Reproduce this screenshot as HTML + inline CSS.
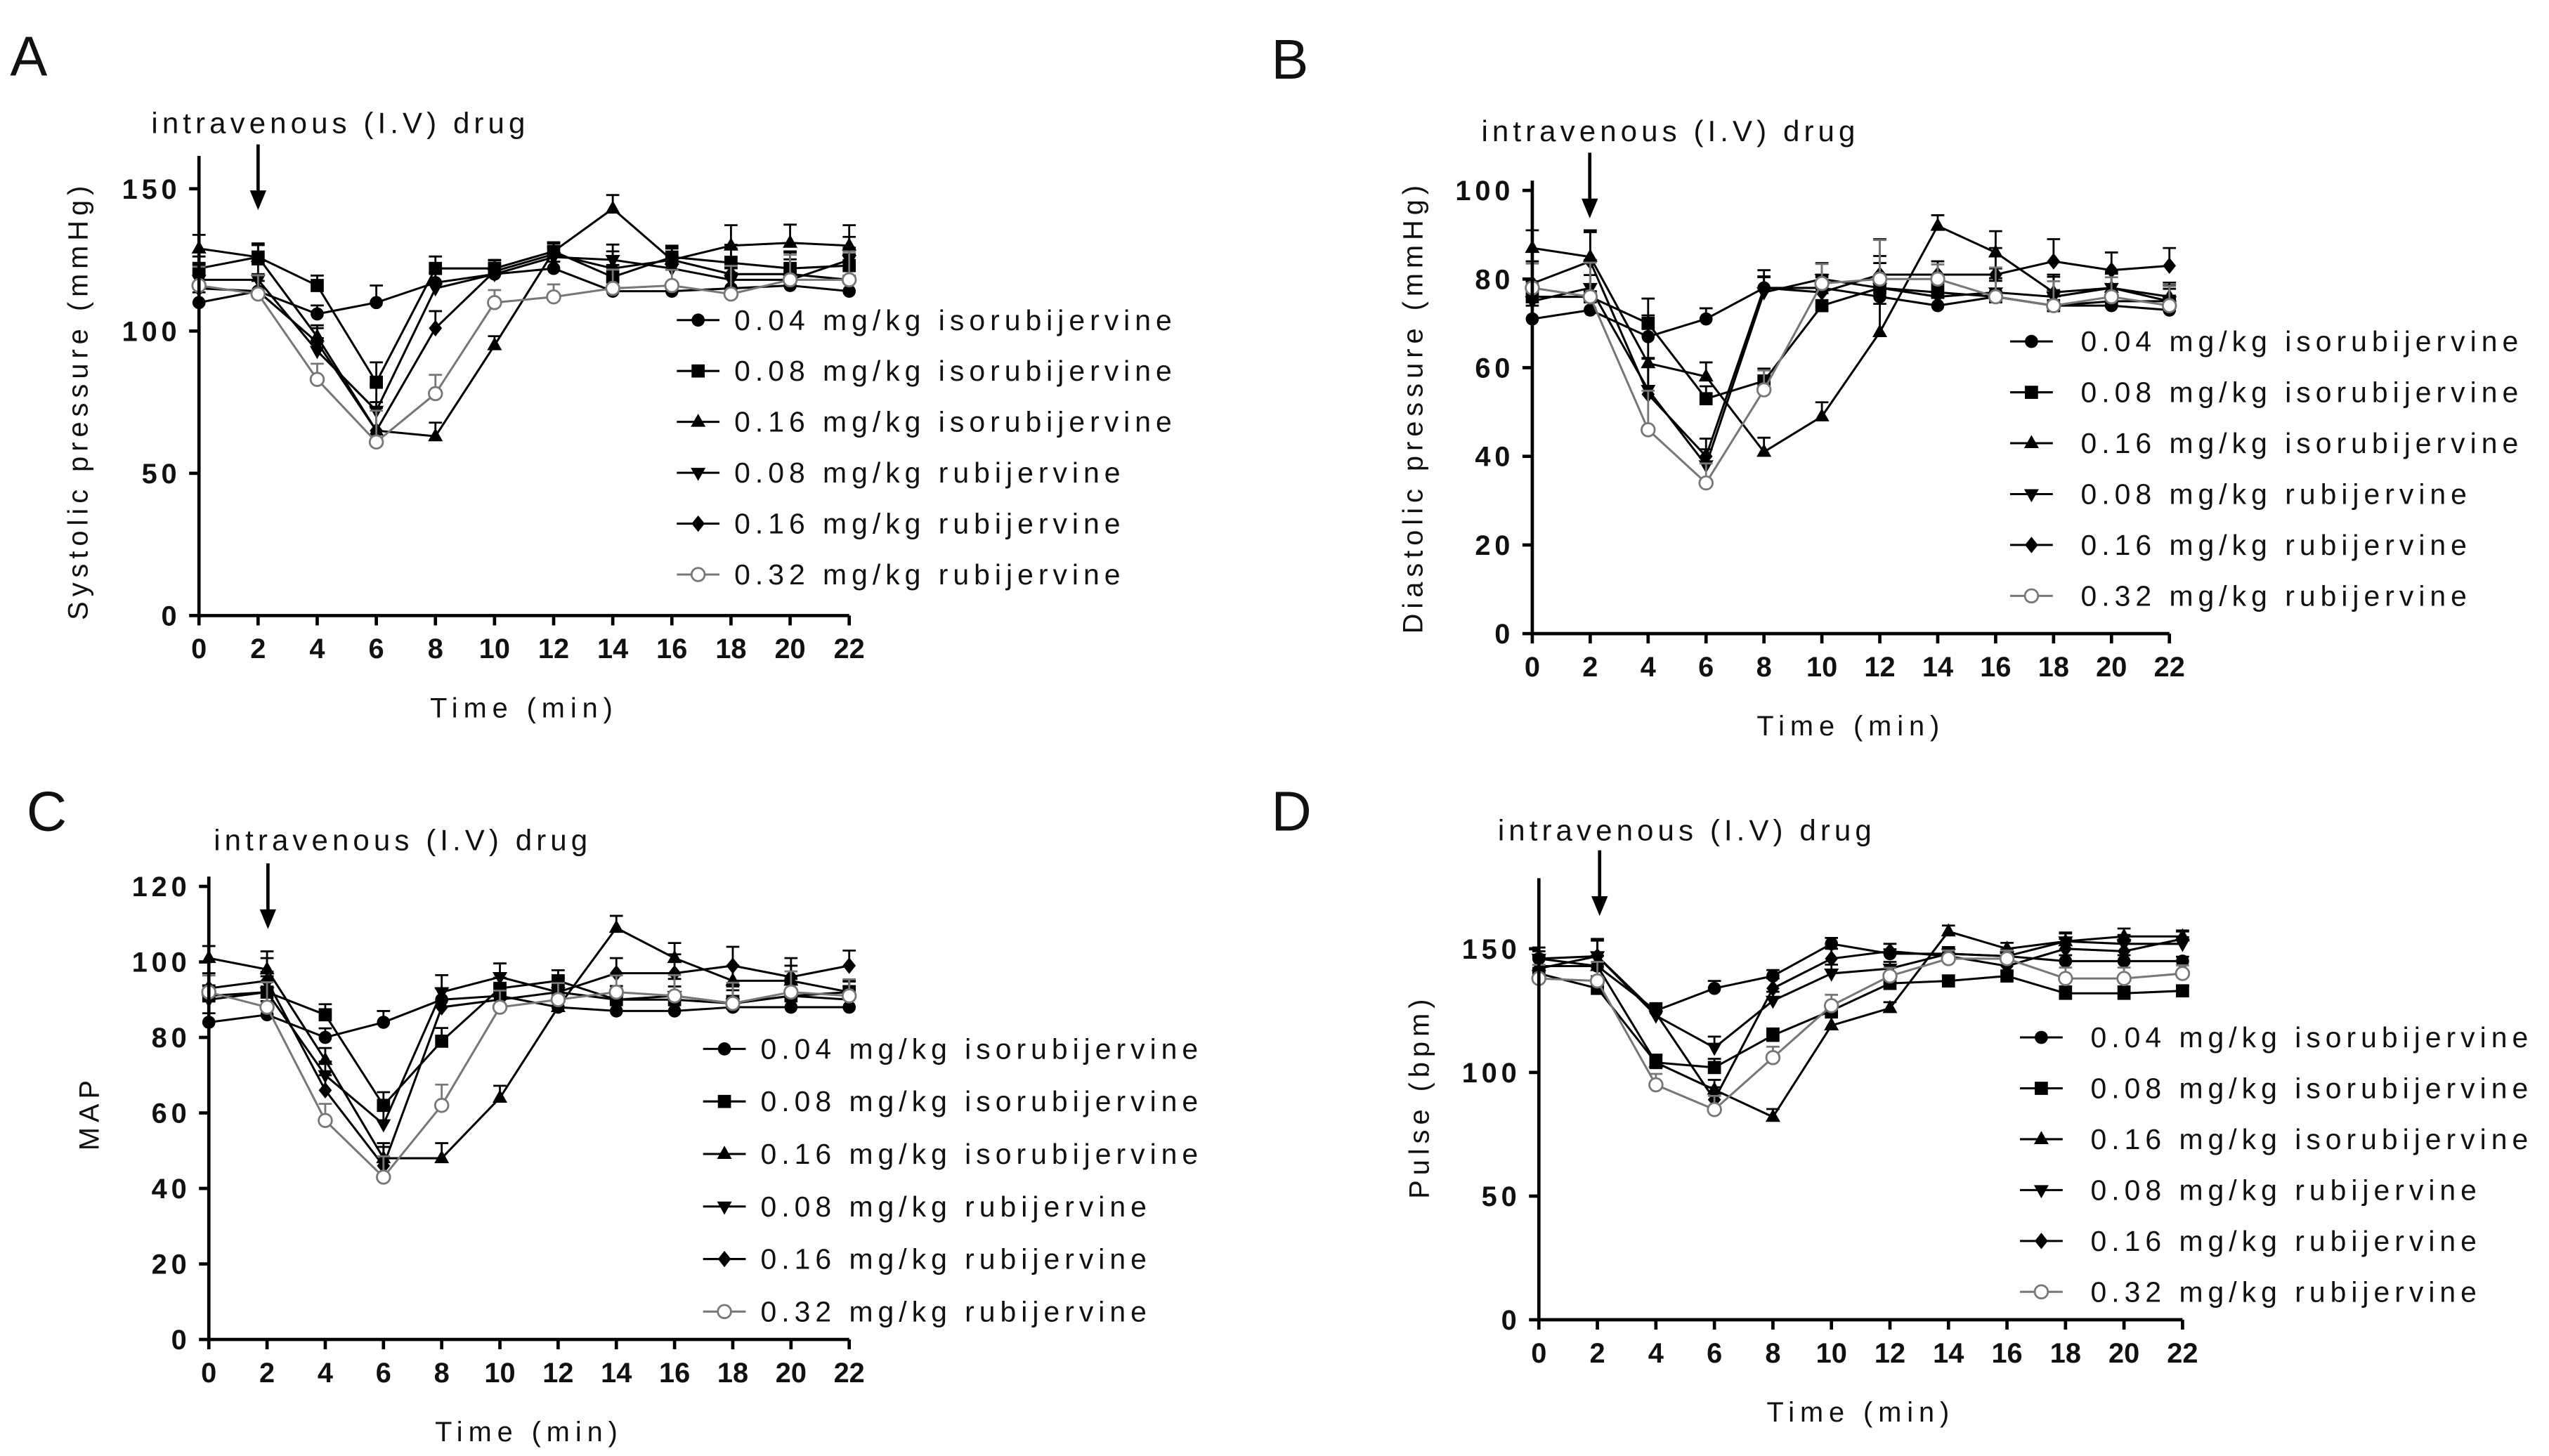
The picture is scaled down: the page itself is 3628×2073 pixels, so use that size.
<!DOCTYPE html>
<html><head><meta charset="utf-8"><style>
html,body{margin:0;padding:0;background:#fff}
svg{display:block}
text{font-family:"Liberation Sans",Arial,sans-serif;fill:#111}
</style></head><body>
<svg id="fig" width="3628" height="2073" viewBox="0 0 1552 887" xmlns="http://www.w3.org/2000/svg"></svg>
<script>
const times = [0,2,4,6,8,10,12,14,16,18,20,22];
const xTicks = [0,2,4,6,8,10,12,14,16,18,20,22];
const seriesNames = ["0.04 mg/kg isorubijervine","0.08 mg/kg isorubijervine","0.16 mg/kg isorubijervine","0.08 mg/kg rubijervine","0.16 mg/kg rubijervine","0.32 mg/kg rubijervine"];
const markers = ["circle","square","tri","tridown","diamond","open"];

const sysS1 = [110,114,106,110,117,120,122,114,114,115,116,114];
const sysS2 = [122,126,116,82,122,122,128,119,126,124,122,123];
const sysS3 = [129,126,98,65,63,95,128,143,125,130,131,130];
const sysS4 = [118,118,93,72,115,120,126,125,122,118,118,125];
const sysS5 = [115,114,96,65,101,121,127,122,125,120,120,118];
const sysS6 = [116,113,83,61,78,110,112,115,116,113,118,118];
const sysErr = [6,6,5,10,6,4,4,6,5,9,8,9];
const sysTicks = [0,50,100,150];

const diaS1 = [71,73,67,71,78,78,76,74,76,74,74,73];
const diaS2 = [76,76,70,53,57,74,78,77,76,74,75,75];
const diaS3 = [87,85,61,58,41,49,68,92,86,77,78,76];
const diaS4 = [75,78,55,38,77,80,78,76,77,76,78,75];
const diaS5 = [79,84,54,40,78,77,81,81,81,84,82,83];
const diaS6 = [78,76,46,34,55,79,80,80,76,74,76,74];
const diaErr = [5,7,8,4,4,4,8,3,6,5,4,4];
const diaTicks = [0,20,40,60,80,100];

const mapS1 = [84,86,80,84,90,91,88,87,87,88,88,88];
const mapS2 = [91,92,86,62,79,93,95,90,90,89,91,92];
const mapS3 = [101,98,74,48,48,64,88,109,101,95,95,92];
const mapS4 = [90,92,70,57,92,96,92,90,91,89,91,90];
const mapS5 = [93,95,66,46,88,90,92,97,97,99,96,99];
const mapS6 = [92,88,58,43,62,88,90,92,91,89,92,91];
const mapErr = [4,6,4,5,5,4,4,4,5,5,5,4];
const mapTicks = [0,20,40,60,80,100,120];

const pulS1 = [146,143,125,134,139,152,148,148,147,145,145,145];
const pulS2 = [140,134,104,102,115,125,136,137,139,132,132,133];
const pulS3 = [143,143,104,93,82,119,126,157,150,153,155,155];
const pulS4 = [146,147,123,110,129,140,142,148,147,153,152,152];
const pulS5 = [142,147,124,89,134,146,149,147,143,150,149,154];
const pulS6 = [138,137,95,85,106,127,139,146,146,138,138,140];
const pulErr = [5,7,4,5,4,4,3,3,3,4,4,3];
const pulTicks = [0,50,100,150];

const NS="http://www.w3.org/2000/svg";
const svg=document.getElementById('fig');
function mk(tag,attrs,parent){const e=document.createElementNS(NS,tag);for(const k in attrs)e.setAttribute(k,attrs[k]);(parent||svg).appendChild(e);return e;}
function txt(s,attrs,parent){const e=mk('text',attrs,parent);e.textContent=s;return e;}

function marker(g,type,x,y){
  const r=4;let e;
  if(type==="circle"){e=mk('circle',{cx:x,cy:y,r:r,fill:'#000'},g);}
  else if(type==="open"){e=mk('circle',{cx:x,cy:y,r:r,fill:'#fff',stroke:'#777','stroke-width':1.2},g);}
  else if(type==="square"){e=mk('rect',{x:x-r,y:y-r,width:2*r,height:2*r,fill:'#000'},g);}
  else if(type==="tri"){e=mk('polygon',{points:`${x},${y-r-1} ${x-r-0.5},${y+r-1} ${x+r+0.5},${y+r-1}`,fill:'#000'},g);}
  else if(type==="tridown"){e=mk('polygon',{points:`${x},${y+r+1} ${x-r-0.5},${y-r+1} ${x+r+0.5},${y-r+1}`,fill:'#000'},g);}
  else {e=mk('polygon',{points:`${x},${y-r-1} ${x+r},${y} ${x},${y+r+1} ${x-r},${y}`,fill:'#000'},g);}
  
  
}

function panel(p){
  const g=mk('g',{});
  
  
  const xs=v=>p.x0+(v-0)*(p.x1-p.x0)/22;
  const ys=v=>p.y0-v*(p.y0-p.yTopPx)/p.yMax;
  const L=txt(p.letter,{x:p.lx,y:p.ly,'font-size':34},g);
  
  p.series.forEach((s,i)=>{
    const sg=mk('g',{},g);
    
    
    const col=i===5?'#777':'#000';
    s.forEach((v,j)=>{
      const x=xs(times[j]),y=ys(v),ye=ys(v+p.err[j]*(0.6+0.1*i));
      mk('line',{x1:x,y1:y,x2:x,y2:ye,stroke:col,'stroke-width':1.2},sg);
      mk('line',{x1:x-4,y1:ye,x2:x+4,y2:ye,stroke:col,'stroke-width':1.2},sg);
    });
    const pts=s.map((v,j)=>xs(times[j])+','+ys(v)).join(' ');
    const pl=mk('polyline',{points:pts,fill:'none',stroke:col,'stroke-width':1.3},sg);
    
    s.forEach((v,j)=>marker(sg,markers[i],xs(times[j]),ys(v)));
  });
  const ax=mk('line',{x1:p.x0,y1:p.y0,x2:p.x1,y2:p.y0,stroke:'#000','stroke-width':2},g);
  
  const ay=mk('line',{x1:p.x0,y1:p.y0+1,x2:p.x0,y2:p.axisTop,stroke:'#000','stroke-width':2},g);
  
  xTicks.forEach(t=>{
    const x=xs(t);
    mk('line',{x1:x,y1:p.y0,x2:x,y2:p.y0+6,stroke:'#000','stroke-width':2},g);
    const tl=txt(String(t),{x:x,y:p.y0+26,'font-size':17,'font-weight':'bold','text-anchor':'middle'},g);
    
  });
  p.ticks.forEach(t=>{
    const y=ys(t);
    mk('line',{x1:p.x0-6,y1:y,x2:p.x0,y2:y,stroke:'#000','stroke-width':2},g);
    const tl=txt(String(t),{x:p.x0-11,y:y+6,'font-size':17,'font-weight':'bold','text-anchor':'end','letter-spacing':2.5},g);
    
  });
  const xt=txt('Time (min)',{x:(p.x0+p.x1)/2,y:p.y0+62,'font-size':17,'text-anchor':'middle','letter-spacing':3.4},g);
  
  const yt=txt(p.ylabel,{x:0,y:0,'font-size':17,'text-anchor':'middle','letter-spacing':3,transform:`translate(${p.ylx},${p.yly}) rotate(-90)`},g);
  
  const an=txt('intravenous (I.V) drug',{x:p.ax,y:p.ay,'font-size':18,'letter-spacing':2.6},g);
  
  const ar=mk('g',{},g);
  
  mk('line',{x1:p.arx,y1:p.ary,x2:p.arx,y2:p.ary+34,stroke:'#000','stroke-width':2},ar);
  mk('polygon',{points:`${p.arx-5},${p.ary+28} ${p.arx+5},${p.ary+28} ${p.arx},${p.ary+40}`,fill:'#000'},ar);
  const lg=mk('g',{},g);
  
  seriesNames.forEach((n,i)=>{
    const y=p.legY+i*p.legDy;
    const eg=mk('g',{},lg);
    
    mk('line',{x1:p.legX-13,y1:y,x2:p.legX+13,y2:y,stroke:i===5?'#777':'#000','stroke-width':1.3},eg);
    marker(eg,markers[i],p.legX,y);
    txt(n,{x:p.legX+p.legTx,y:y+6,'font-size':17.5,'letter-spacing':3},eg);
  });
}

panel({letter:'A',lx:6,ly:46,x0:121,x1:517,y0:375,yTopPx:115,yMax:150,axisTop:95,ticks:sysTicks,err:sysErr,
  series:[sysS1,sysS2,sysS3,sysS4,sysS5,sysS6],ylabel:'Systolic pressure (mmHg)',ylx:53,yly:244,
  ax:92,ay:81,arx:157,ary:88,legX:425,legY:195,legDy:31,legTx:22});
panel({letter:'B',lx:774,ly:48,x0:933,x1:1321,y0:386,yTopPx:116,yMax:100,axisTop:110,ticks:diaTicks,err:diaErr,
  series:[diaS1,diaS2,diaS3,diaS4,diaS5,diaS6],ylabel:'Diastolic pressure (mmHg)',ylx:866,yly:248,
  ax:902,ay:86,arx:968,ary:93,legX:1237,legY:208,legDy:31,legTx:30});
panel({letter:'C',lx:16,ly:506,x0:127,x1:517,y0:816,yTopPx:540,yMax:120,axisTop:534,ticks:mapTicks,err:mapErr,
  series:[mapS1,mapS2,mapS3,mapS4,mapS5,mapS6],ylabel:'MAP',ylx:60,yly:678,
  ax:130,ay:518,arx:163,ary:526,legX:441,legY:639,legDy:32,legTx:22});
panel({letter:'D',lx:774,ly:506,x0:937,x1:1329,y0:804,yTopPx:578,yMax:150,axisTop:535,ticks:pulTicks,err:pulErr,
  series:[pulS1,pulS2,pulS3,pulS4,pulS5,pulS6],ylabel:'Pulse (bpm)',ylx:870,yly:668,
  ax:912,ay:512,arx:974,ary:518,legX:1243,legY:632,legDy:31,legTx:30});
</script>
</body></html>
